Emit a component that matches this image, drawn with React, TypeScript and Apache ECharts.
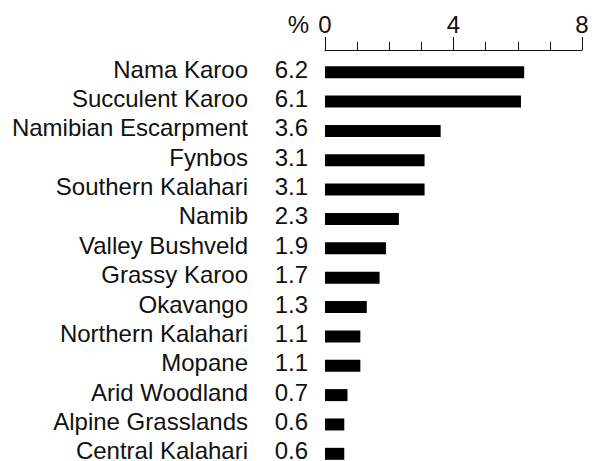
import React, { useEffect, useRef } from "react";
import * as echarts from "echarts";

const regions = [
  "Nama Karoo",
  "Succulent Karoo",
  "Namibian Escarpment",
  "Fynbos",
  "Southern Kalahari",
  "Namib",
  "Valley Bushveld",
  "Grassy Karoo",
  "Okavango",
  "Northern Kalahari",
  "Mopane",
  "Arid Woodland",
  "Alpine Grasslands",
  "Central Kalahari",
];
const percents = [6.2, 6.1, 3.6, 3.1, 3.1, 2.3, 1.9, 1.7, 1.3, 1.1, 1.1, 0.7, 0.6, 0.6];
const xMin = 0;
const xMax = 8;
const xInterval = 4;

const FONT = "'Liberation Sans', Arial, Helvetica, sans-serif";
const TEXT = "#111111";
const FS = 24;

export default function App() {
  const ref = useRef<HTMLDivElement>(null);
  useEffect(() => {
    if (!ref.current) return;
    const chart = echarts.init(ref.current, undefined, { renderer: "svg" });
    chart.setOption({
      animation: false,
      backgroundColor: "#ffffff",
      textStyle: { fontFamily: FONT },
      grid: { left: 325, right: 12, top: 57.5, bottom: 1.5, containLabel: false },
      xAxis: {
        type: "value",
        position: "top",
        offset: 7.5,
        min: xMin,
        max: xMax,
        interval: xInterval,
        axisLine: { show: true, lineStyle: { color: TEXT, width: 1 } },
        axisTick: { show: true, length: 13, lineStyle: { color: TEXT, width: 1 } },
        minorTick: { show: true, splitNumber: 4, length: 8, lineStyle: { color: TEXT, width: 1 } },
        splitLine: { show: false },
        axisLabel: { color: TEXT, fontSize: FS, margin: 14, fontFamily: FONT },
      },
      yAxis: [
        {
          type: "category",
          inverse: true,
          data: regions,
          position: "left",
          axisLine: { show: false },
          axisTick: { show: false },
          axisLabel: {
            color: TEXT,
            fontSize: FS,
            margin: 77,
            interval: 0,
            fontFamily: FONT,
            verticalAlign: "bottom",
            lineHeight: 6,
          },
        },
        {
          type: "category",
          inverse: true,
          data: percents.map((v) => v.toFixed(1)),
          position: "left",
          axisLine: { show: false },
          axisTick: { show: false },
          axisLabel: {
            color: TEXT,
            fontSize: FS,
            margin: 17,
            interval: 0,
            fontFamily: FONT,
            verticalAlign: "bottom",
            lineHeight: 6,
          },
        },
      ],
      graphic: [
        {
          type: "text",
          x: 309,
          y: 36,
          style: {
            text: "%",
            fill: TEXT,
            fontSize: FS,
            fontFamily: FONT,
            textAlign: "right",
            textVerticalAlign: "bottom",
          },
        },
      ],
      series: [
        {
          type: "bar",
          yAxisIndex: 0,
          data: percents,
          barWidth: 12,
          itemStyle: { color: "#000000" },
        },
      ],
    });
    return () => chart.dispose();
  }, []);
  return (
    <div
      style={{
        position: "fixed",
        left: 0,
        top: 0,
        width: 594,
        height: 461,
        overflow: "hidden",
        background: "#ffffff",
      }}
    >
      <div ref={ref} style={{ width: 594, height: 470 }} />
    </div>
  );
}
